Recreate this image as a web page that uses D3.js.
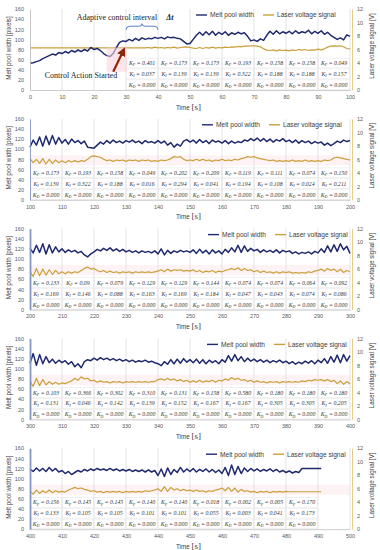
<!DOCTYPE html>
<html>
<head>
<meta charset="utf-8">
<script src="https://cdn.jsdelivr.net/npm/d3@7"></script>
<style>
  body { margin: 0; background: #fff; }
  svg { display: block; }
</style>
</head>
<body>
<svg id="chart" width="380" height="550"></svg>
<script>
// time axis start of each panel (s)
const panelStarts = [0, 100, 200, 300, 400]
const leftTicks = [0, 20, 40, 60, 80, 100, 120, 140, 160]
const rightTicks = [0, 2, 4, 6, 8, 10, 12]
const seriesNames = ['Melt pool width', 'Laser voltage signal']

// melt pool width [pixels], one value per second
const width1 = [53,54,56,58,62,65,68,71,69,74, 72,76,73,78,75,79,76,80,77,84,
  80,82,78,72,68,66,72,84,94,97, 96,100,97,102,98,103,100,102,101,104,
  102,104,101,105,103,104,102,101,96,91, 92,100,108,114,108,115,109,116,108,114,
  110,115,108,113,110,114,111,113,106,97, 99,96,101,98,108,116,110,117,111,115,
  112,116,111,117,112,115,113,118,111,116, 112,117,110,114,108,104,100,103,99,109, 106]
const width2 = [104,118,108,124,106,126,109,127,110,123, 112,119,110,120,113,117,111,116,104,103,
  102,108,114,110,117,112,118,113,116,112, 117,114,118,113,116,111,117,113,115,112,
  117,112,116,108,113,104,110,106,116,119, 114,118,112,119,113,117,111,118,114,116,
  112,117,111,116,112,115,113,118,116,121, 117,122,116,121,115,120,114,119,116,121,
  115,118,113,118,112,117,113,116,111,115, 112,114,108,112,107,111,116,113,118,115, 117]
const width3 = [121,112,127,113,130,110,128,112,124,114, 120,113,118,114,117,112,115,108,104,110,
  114,119,116,121,117,122,116,120,115,119, 114,117,113,116,112,116,113,115,112,116,
  110,120,108,117,111,116,113,117,114,116, 113,118,111,119,112,117,110,118,112,116,
  110,119,113,122,114,127,113,126,115,121, 116,119,113,118,114,117,113,118,112,117,
  114,116,111,114,110,113,111,114,110,115, 112,120,113,126,114,128,115,130,118,125, 111]
const width4 = [111,130,107,128,110,124,112,119,111,117, 112,116,109,114,104,110,102,114,118,116,
  121,117,122,118,121,117,120,116,119,115, 118,114,117,113,116,114,117,113,115,112,
  110,106,114,109,118,110,119,111,120,113, 118,112,119,111,118,110,117,112,116,110,
  118,113,126,115,128,116,124,114,121,115, 119,114,118,113,117,112,116,113,117,112,
  115,110,114,109,113,110,115,111,116,110, 117,112,120,111,124,113,127,112,128,115, 126]
const width5 = [118,114,121,115,120,114,122,115,120,113, 116,110,114,108,112,116,113,118,115,119,
  116,120,117,119,116,120,116,119,115,118, 115,118,114,117,114,117,113,117,113,116,
  106,119,104,121,108,118,112,122,113,119, 114,120,113,118,114,119,113,118,112,117,
  110,122,106,127,108,124,110,121,114,120, 115,119,114,118,115,119,114,118,113,116,
  112,115,111,114,112,120,120,120,120,120, 120,120]

// laser voltage signal [V], one value per second
const volt1 = [6.25,6.25,6.25,6.25,6.25,6.25,6.25,6.25,6.25,6.25, 6.25,6.25,6.25,6.25,6.25,6.25,6.25,6.25,6.25,6.25,
  6.25,6.25,6.25,6.25,6.25,6.25,6.25,6.25,6.25,6.25, 6.25,6.25,6.25,6.25,6.25,6.25,6.25,6.3,6.2,6.35,
  6.25,6.3,6.2,6.3,6.25,6.35,6.2,6.3,6.35,6.4, 6.3,6.2,6.15,6.3,6.15,6.3,6.2,6.35,6.2,6.3,
  6.25,6.35,6.3,6.4,6.35,6.45,6.4,6.5,6.5,6.55, 6.55,6.5,6.4,6.1,5.9,5.85,5.95,5.8,5.95,5.85,
  5.9,5.8,5.95,5.85,6.0,5.9,6.0,5.85,5.95,5.9, 6.05,5.95,6.1,6.35,6.5,6.55,6.5,6.55,6.4,6.15, 6.1]
const volt2 = [6.1,5.5,6.0,5.4,6.1,5.3,6.0,5.4,5.9,5.5, 5.8,5.5,5.8,5.6,5.8,5.6,5.8,5.7,6.0,6.4,
  6.5,6.4,6.3,6.0,5.8,5.9,5.7,5.9,5.8,5.9, 5.7,5.9,5.8,5.9,5.7,5.9,5.8,5.9,5.7,5.8,
  5.7,5.9,5.8,5.9,6.1,6.4,6.3,6.4,6.0,5.8, 5.9,5.8,6.0,5.8,6.0,5.8,5.9,5.7,5.9,5.8,
  6.0,5.8,5.9,5.8,6.0,5.9,6.1,6.2,6.4,6.3, 6.4,6.2,6.1,6.0,5.9,5.8,5.9,5.7,5.8,5.7,
  5.8,5.7,5.9,5.7,5.8,5.7,5.9,5.7,5.8,5.7, 5.8,5.7,5.9,5.8,5.9,6.2,6.3,6.2,6.1,6.0, 5.9]
const volt3 = [5.6,4.9,6.1,5.0,6.0,5.1,5.9,5.2,5.8,5.3, 5.6,5.3,5.6,5.4,5.6,5.5,5.8,6.1,6.3,6.0,
  6.1,5.8,5.6,5.8,5.5,5.7,5.5,5.6,5.4,5.6, 5.5,5.6,5.4,5.6,5.5,5.6,5.5,5.6,5.5,5.6,
  5.7,5.9,5.6,6.0,5.7,5.9,5.8,5.9,5.7,5.8, 5.7,5.9,5.6,5.8,5.5,5.7,5.6,5.8,5.5,5.7,
  5.6,5.8,5.9,6.1,5.9,6.2,5.8,6.1,5.8,5.9, 5.6,5.8,5.5,5.7,5.5,5.6,5.4,5.6,5.4,5.6,
  5.5,5.6,5.4,5.5,5.4,5.5,5.4,5.6,5.5,5.7, 5.8,6.0,5.7,6.1,5.8,6.0,5.6,6.0,5.5,5.8, 5.6]
const volt4 = [5.6,4.9,6.1,5.0,5.9,5.1,5.6,5.2,5.5,5.2, 5.4,5.3,5.5,5.7,6.1,5.8,6.3,6.0,6.1,5.7,
  5.8,5.5,5.7,5.5,5.6,5.4,5.6,5.5,5.6,5.4, 5.6,5.5,5.6,5.5,5.6,5.5,5.6,5.5,5.6,5.6,
  5.9,6.0,5.8,6.1,5.8,6.0,5.7,5.9,5.6,5.8, 5.5,5.7,5.5,5.8,5.5,5.7,5.6,5.8,5.5,5.8,
  5.7,6.0,5.8,6.2,5.9,6.1,5.8,5.9,5.6,5.8, 5.5,5.7,5.5,5.6,5.4,5.6,5.5,5.6,5.4,5.6,
  5.5,5.6,5.5,5.6,5.5,5.7,5.6,5.8,5.7,5.9, 5.8,5.9,5.7,5.9,5.6,5.8,5.3,5.7,5.2,5.6, 5.3]
const volt5 = [5.6,5.2,5.8,5.3,5.7,5.4,5.8,5.4,5.7,5.5, 5.6,5.5,5.8,6.0,6.2,6.0,6.1,5.9,5.8,5.6,
  5.7,5.5,5.6,5.4,5.6,5.5,5.6,5.5,5.6,5.4, 5.6,5.5,5.6,5.5,5.6,5.5,5.7,5.6,5.7,5.8,
  6.0,5.6,6.3,5.6,6.2,5.8,6.0,5.7,5.9,5.7, 5.8,5.6,5.8,5.6,5.7,5.5,5.7,5.6,5.8,5.9,
  6.1,5.7,6.2,5.6,6.1,5.5,5.9,5.6,5.7,5.5, 5.6,5.4,5.6,5.5,5.6,5.4,5.6,5.5,5.6,5.5,
  5.6,5.55,5.55,5.55,5.55,5.55,5.55,5.55,5.55,5.55, 5.55,5.55]

// controller gains per 10 s interval
const gainStarts = [30, 100, 200, 300, 400]
const kp1 = ['0.401','0.173','0.173','0.193','0.158','0.158','0.049']
const ki1 = ['0.037','0.139','0.139','0.322','0.188','0.188','0.157']
const kd1 = ['0.000','0.000','0.000','0.000','0.000','0.000','0.000']
const kp2 = ['0.173','0.193','0.158','0.049','0.202','0.209','0.119','0.111','0.074','0.150']
const ki2 = ['0.139','0.322','0.188','0.016','0.294','0.041','0.194','0.108','0.024','0.211']
const kd2 = ['0.000','0.000','0.000','0.000','0.000','0.000','0.000','0.000','0.000','0.000']
const kp3 = ['0.133','0.09','0.079','0.129','0.129','0.144','0.074','0.074','0.064','0.092']
const ki3 = ['0.169','0.146','0.088','0.163','0.169','0.184','0.047','0.043','0.074','0.086']
const kd3 = ['0.000','0.000','0.000','0.000','0.000','0.000','0.000','0.000','0.000','0.000']
const kp4 = ['0.103','0.366','0.302','0.310','0.131','0.158','0.580','0.180','0.180','0.180']
const ki4 = ['0.131','0.046','0.142','0.139','0.152','0.167','0.167','0.305','0.305','0.205']
const kd4 = ['0.000','0.000','0.000','0.000','0.000','0.000','0.000','0.000','0.000','0.000']
const kp5 = ['0.156','0.145','0.145','0.140','0.140','0.018','0.002','0.005','0.170']
const ki5 = ['0.133','0.105','0.105','0.101','0.101','0.055','0.003','0.041','0.173']
const kd5 = ['0.000','0.000','0.000','0.000','0.000','0.000','0.000','0.000','0.000']

const panels = panelStarts.map((start, i) => ({
  start,
  width: [width1, width2, width3, width4, width5][i],
  volt: [volt1, volt2, volt3, volt4, volt5][i],
  gainStart: gainStarts[i],
  gains: [[kp1, ki1, kd1], [kp2, ki2, kd2], [kp3, ki3, kd3], [kp4, ki4, kd4], [kp5, ki5, kd5]][i]
}))

const BLUE = '#1f2a6e'
const GOLD = '#cc9f3a'
const SANS = 'Liberation Sans, Arial, sans-serif'
const SERIF = 'Liberation Serif, Times New Roman, serif'
const legendX = [196, 202, 208, 207, 206]

const svg = d3.select('#chart')
svg.append('rect').attr('width', 380).attr('height', 550).attr('fill', '#fff')

const defs = svg.append('defs')
defs.append('marker')
  .attr('id', 'arrowhead')
  .attr('viewBox', '0 0 10 10')
  .attr('refX', 6).attr('refY', 5)
  .attr('markerWidth', 4).attr('markerHeight', 4)
  .attr('orient', 'auto')
  .append('path').attr('d', 'M0,0L10,5L0,10z').attr('fill', '#8b2a0a')

panels.forEach((p, i) => {
  const y0 = 90 + i * 109.8
  const g = svg.append('g')

  const x = d3.scaleLinear().domain([p.start, p.start + 100]).range([30, 350])
  const yL = d3.scaleLinear().domain([0, 160]).range([y0, y0 - 81])
  const yR = d3.scaleLinear().domain([0, 12]).range([y0, y0 - 81])

  // faint pinkish band seen behind the voltage trace
  if (i > 0) {
    g.append('rect')
      .attr('x', x(p.start)).attr('width', x(p.start + 100) - x(p.start))
      .attr('y', yL(88)).attr('height', yL(68) - yL(88))
      .attr('fill', '#fbe3e7').attr('opacity', 0.45)
  }

  // vertical gridlines
  g.append('g').selectAll('line')
    .data(d3.range(p.start + 10, p.start + 101, 10))
    .join('line')
    .attr('x1', d => x(d)).attr('x2', d => x(d))
    .attr('y1', yL(160)).attr('y2', yL(0))
    .attr('stroke', '#d9d9d9').attr('stroke-width', 0.7)

  // gain table
  const rowCenters = [53, 31.5, 10]
  const rowEdges = [64, 42.5, 21, 0]
  const subs = ['P', 'I', 'D']
  const nCols = p.gains[0].length
  const table = g.append('g')
  for (let c = 0; c < nCols; c++) {
    const t0 = p.gainStart + c * 10
    for (let r = 0; r < 3; r++) {
      table.append('rect')
        .attr('x', x(t0) + 0.5).attr('width', x(t0 + 10) - x(t0) - 1)
        .attr('y', yL(rowEdges[r]) + 0.5).attr('height', yL(rowEdges[r + 1]) - yL(rowEdges[r]) - 1)
        .attr('fill', '#fff').attr('fill-opacity', 0.6)
        .attr('stroke', '#e3e3e3').attr('stroke-width', 0.5)
      const txt = table.append('text')
        .attr('x', (x(t0) + x(t0 + 10)) / 2)
        .attr('y', yL(rowCenters[r]) + 2)
        .attr('text-anchor', 'middle')
        .attr('font-family', SERIF).attr('font-style', 'italic')
        .attr('font-size', 5.8).attr('fill', '#333')
      txt.append('tspan').text('K')
      txt.append('tspan').attr('dy', 1.2).attr('font-size', 4).text(subs[r])
      txt.append('tspan').attr('dy', -1.2).text(' = ' + p.gains[r][c])
    }
  }

  // series lines
  g.append('path')
    .datum(p.volt)
    .attr('fill', 'none').attr('stroke', GOLD).attr('stroke-width', 1.2)
    .attr('stroke-linejoin', 'round')
    .attr('d', d3.line().x((d, j) => x(p.start + j)).y(d => yR(d)))
  g.append('path')
    .datum(p.width)
    .attr('fill', 'none').attr('stroke', BLUE).attr('stroke-width', 1.5)
    .attr('stroke-linejoin', 'round')
    .attr('d', d3.line().x((d, j) => x(p.start + j)).y(d => yL(d)))

  // axes
  const xAxis = g.append('g')
    .attr('transform', `translate(0,${y0})`)
    .call(d3.axisBottom(x).tickValues(d3.range(p.start, p.start + 101, 10)).tickSize(0).tickPadding(5))
  xAxis.select('.domain').attr('stroke', '#bfbfbf').attr('stroke-width', 0.8)

  const leftAxis = g.append('g')
    .attr('transform', 'translate(30,0)')
    .call(d3.axisLeft(yL).tickValues(leftTicks).tickSize(0).tickPadding(6))
  leftAxis.select('.domain')
    .attr('stroke', i === 0 ? '#bfbfbf' : '#8595c4')
    .attr('stroke-width', i < 2 ? 0.9 : 1.8)

  const rightAxis = g.append('g')
    .attr('transform', 'translate(352,0)')
    .call(d3.axisRight(yR).tickValues(rightTicks).tickSize(0).tickPadding(5))
  rightAxis.select('.domain').attr('stroke', '#e2c680').attr('stroke-width', 0.9)

  g.selectAll('.tick text')
    .attr('font-family', SANS).attr('font-size', 5.5).attr('fill', '#595959')

  // axis titles
  g.append('text')
    .attr('transform', `translate(11,${y0 - 42}) rotate(-90)`)
    .attr('text-anchor', 'middle')
    .attr('font-family', SANS).attr('font-size', 6.3).attr('fill', '#404040')
    .text('Melt pool width [pixels]')
  g.append('text')
    .attr('transform', `translate(374,${y0 - 44}) rotate(-90)`)
    .attr('text-anchor', 'middle')
    .attr('font-family', SANS).attr('font-size', 6.3).attr('fill', '#404040')
    .text('Laser voltage signal [V]')
  const tt = g.append('text')
    .attr('x', 176).attr('y', y0 + 19.5)
    .attr('fill', '#404040')
  tt.append('tspan').attr('font-family', SANS).attr('font-size', 6.3).text('Time ')
  tt.append('tspan').attr('font-family', SERIF).attr('font-size', 9).text('[s]')

  // legend
  const lx = legendX[i], ly = y0 - 75
  const leg = g.append('g').attr('font-family', SANS).attr('font-size', 6.6).attr('fill', '#404040')
  leg.append('line').attr('x1', lx).attr('x2', lx + 11).attr('y1', ly).attr('y2', ly)
    .attr('stroke', BLUE).attr('stroke-width', 1.4)
  leg.append('text').attr('x', lx + 14).attr('y', ly + 2.3).text(seriesNames[0])
  leg.append('line').attr('x1', lx + 67).attr('x2', lx + 78).attr('y1', ly).attr('y2', ly)
    .attr('stroke', GOLD).attr('stroke-width', 1.4)
  leg.append('text').attr('x', lx + 81).attr('y', ly + 2.3).text(seriesNames[1])

  // annotations on the first panel
  if (i === 0) {
    g.append('rect')
      .attr('x', x(24)).attr('width', x(30.3) - x(24))
      .attr('y', yL(84)).attr('height', yL(36) - yL(84))
      .attr('fill', '#f9d3dc').attr('opacity', 0.6)
    g.append('text')
      .attr('x', x(14.6)).attr('y', yL(139))
      .attr('font-family', SERIF).attr('font-size', 8).attr('fill', '#222')
      .text('Adaptive control interval')
    g.append('text')
      .attr('x', x(42.6)).attr('y', yL(139))
      .attr('font-family', SERIF).attr('font-size', 8).attr('fill', '#222')
      .attr('font-style', 'italic').attr('font-weight', 'bold')
      .text('Δt')
    const bx0 = x(30), bx1 = x(40), bm = (bx0 + bx1) / 2
    const by = yL(126), bt = yL(119), bp = yL(131)
    g.append('path')
      .attr('d', `M${bx0},${bt} Q${bx0},${by} ${bx0 + 4},${by} L${bm - 3},${by} Q${bm},${by} ${bm},${bp}` +
        ` Q${bm},${by} ${bm + 3},${by} L${bx1 - 4},${by} Q${bx1},${by} ${bx1},${bt}`)
      .attr('fill', 'none').attr('stroke', '#4a6fc0').attr('stroke-width', 0.9)
    g.append('text')
      .attr('x', x(4.6)).attr('y', yL(24))
      .attr('font-family', SERIF).attr('font-size', 8).attr('fill', '#222')
      .text('Control Action Started')
    g.append('line')
      .attr('x1', x(26)).attr('y1', yL(36))
      .attr('x2', x(29.2)).attr('y2', yL(78))
      .attr('stroke', '#8b2a0a').attr('stroke-width', 2.2)
      .attr('marker-end', 'url(#arrowhead)')
  }
})
</script>
</body>
</html>
